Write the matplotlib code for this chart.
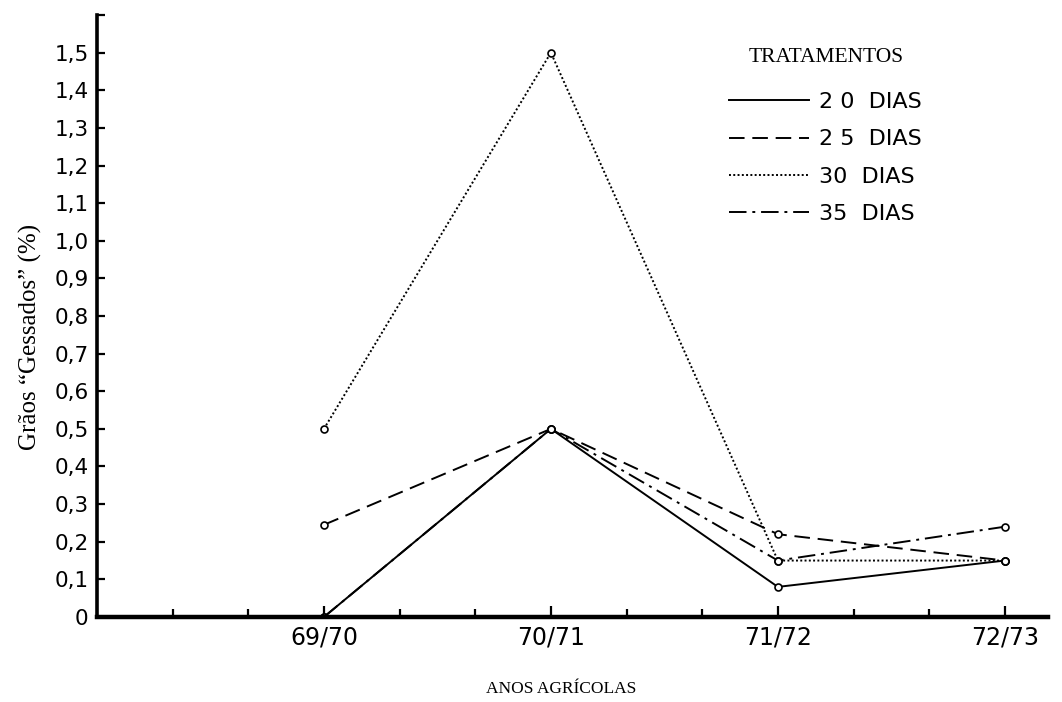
import matplotlib
matplotlib.use("Agg")
import matplotlib.pyplot as plt
import numpy as np

anos = ['69/70', '70/71', '71/72', '72/73']
dias20 = [0.0, 0.5, 0.08, 0.15]
dias25 = [0.245, 0.5, 0.22, 0.15]
dias30 = [0.5, 1.5, 0.15, 0.15]
dias35 = [0.0, 0.5, 0.15, 0.24]
nomes = ['2 0  DIAS', '2 5  DIAS', '30  DIAS', '35  DIAS']
yticks = [0, 0.1, 0.2, 0.3, 0.4, 0.5, 0.6, 0.7, 0.8, 0.9, 1.0, 1.1, 1.2, 1.3, 1.4, 1.5, 1.6]

SERIF = 'Liberation Serif'

fig = plt.figure(figsize=(10.62, 7.02), dpi=100)
ax = fig.add_axes([0.0913, 0.1211, 0.8955, 0.8575])

x = np.arange(len(anos))
estilos = ['-', (0, (8, 4)), (0, (1, 1.2)), (0, (9, 3, 1.5, 3))]
series = [dias20, dias25, dias30, dias35]
for serie, ls, nome in zip(series, estilos, nomes):
    ax.plot(x, serie, color='black', linestyle=ls, linewidth=1.4,
            marker='o', markersize=5, markerfacecolor='white',
            markeredgecolor='black', markeredgewidth=1.2, label=nome)

ax.set_xlim(-1, 3.19)
ax.set_ylim(0, 1.6)

ax.set_xticks(x)
ax.set_xticklabels(anos, fontsize=17)
ax.set_xticks(np.arange(-2, 10) / 3.0, minor=True)
ax.set_yticks(yticks)
ax.set_yticklabels(['0'] + [('%.1f' % v).replace('.', ',') for v in yticks[1:-1]] + [''],
                   fontsize=15.5)
ax.tick_params(axis='both', which='both', direction='in', color='black', width=1.6)
ax.tick_params(axis='x', which='major', length=8, pad=6)
ax.tick_params(axis='x', which='minor', length=6)
ax.tick_params(axis='y', which='major', length=6, pad=6)

for s in ['top', 'right']:
    ax.spines[s].set_visible(False)
ax.spines['left'].set_linewidth(2.6)
ax.spines['bottom'].set_linewidth(3.2)

ax.set_ylabel('Grãos “Gessados” (%)', fontsize=18, family=SERIF)
ax.yaxis.set_label_coords(-0.058, 0.465)
ax.set_xlabel('ANOS AGRÍCOLAS', fontsize=12.5, family=SERIF)
ax.xaxis.set_label_coords(0.488, -0.106)

leg = ax.legend(loc='upper left', bbox_to_anchor=(0.665, 0.945), frameon=False,
                fontsize=16, handlelength=3.6, handletextpad=0.45, labelspacing=0.78,
                borderpad=0, borderaxespad=0,
                title='TRATAMENTOS', title_fontproperties={'family': SERIF, 'size': 15.5})
leg._legend_box.sep = 18
for h in leg.legend_handles:
    h.set_marker('')

fig.savefig('out.png', dpi=100)
